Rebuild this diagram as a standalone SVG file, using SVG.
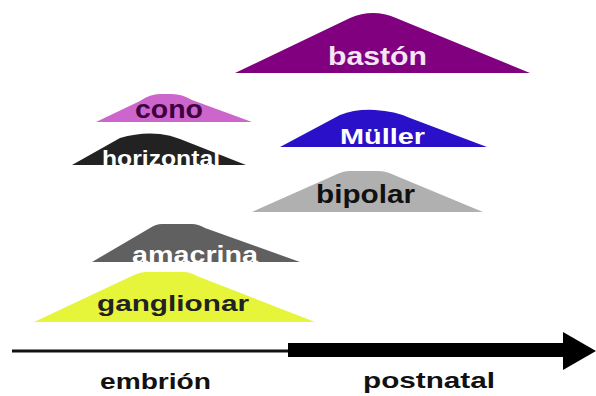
<svg xmlns="http://www.w3.org/2000/svg" width="596" height="396" viewBox="0 0 596 396">
<style>
text{font-family:"Liberation Sans",Arial,sans-serif;font-weight:bold;text-anchor:middle}
</style>
<rect width="596" height="396" fill="#fff"/>
<g id="baston">
<path d="M235,73 L350,18 Q373,8 396,18 L530,73 Z" fill="#800080"/>
<text x="377.5" y="65" font-size="25" textLength="99" lengthAdjust="spacingAndGlyphs" fill="#f4e4f4">bastón</text>
</g>
<g id="cono">
<path d="M96,122 L140,101 Q150,94 160,94 L172,94 Q182,94 192,100 L252,122 Z" fill="#cc66cc"/>
<text x="169" y="118" font-size="25" textLength="68" lengthAdjust="spacingAndGlyphs" fill="#400040">cono</text>
</g>
<g id="horizontal">
<path d="M72,165 L120,138 Q140,132 160,134 Q170,135 180,139 L246,165 Z" fill="#222"/>
<text x="161" y="166" font-size="22" textLength="118" lengthAdjust="spacingAndGlyphs" fill="#fff">horizontal</text>
</g>
<g id="muller">
<path d="M280,147 L340,115 Q355,109 375,110 Q395,111 410,118 L487,147 Z" fill="#2a10c8"/>
<text x="382.5" y="144" font-size="22" textLength="85" lengthAdjust="spacingAndGlyphs" fill="#fff">Müller</text>
</g>
<g id="bipolar">
<path d="M252,212 L335,175 Q343,171 350,171 L378,171 Q386,171 394,175 L483,212 Z" fill="#b0b0b0"/>
<text x="365.5" y="203" font-size="25" textLength="99" lengthAdjust="spacingAndGlyphs" fill="#111">bipolar</text>
</g>
<g id="amacrina">
<path d="M92,262 L150,228 Q156,224 162,224 L192,224 Q198,224 205,228 L300,262 Z" fill="#606060"/>
<text x="195" y="263" font-size="24" textLength="126" lengthAdjust="spacingAndGlyphs" fill="#fff">amacrina</text>
</g>
<g id="ganglionar">
<path d="M34,322 L134,275 Q140,272 146,272 L184,272 Q190,272 197,276 L315,322 Z" fill="#e6f53a"/>
<text x="173" y="311" font-size="22" textLength="152" lengthAdjust="spacingAndGlyphs" fill="#222">ganglionar</text>
</g>
<g id="connectors">
<line x1="12" y1="351" x2="290" y2="351" stroke="#111" stroke-width="3"/>
<rect x="288" y="343" width="278" height="14" fill="#000"/>
<polygon points="563,332 596,351 563,370" fill="#000"/>
</g>
<g id="labels">
<text x="155.5" y="389" font-size="22" textLength="111" lengthAdjust="spacingAndGlyphs" fill="#111">embrión</text>
<text x="429" y="388" font-size="22" textLength="132" lengthAdjust="spacingAndGlyphs" fill="#111">postnatal</text>
</g>
</svg>
